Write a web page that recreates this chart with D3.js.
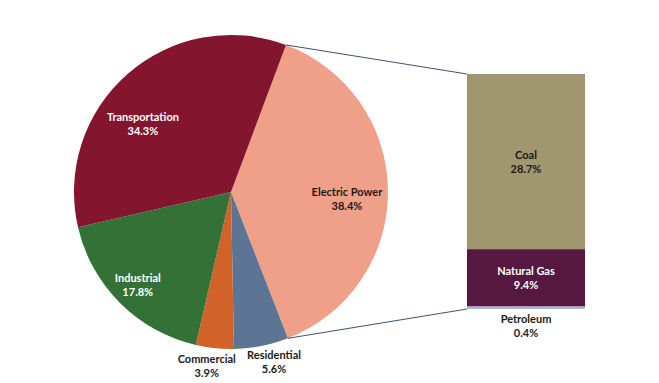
<!DOCTYPE html>
<html>
<head>
<meta charset="utf-8">
<script src="https://cdn.jsdelivr.net/npm/d3@7"></script>
<style>
  body { margin: 0; background: #fff; }
  svg { display: block; }
  text { font-family: Lato, "Open Sans", sans-serif; font-weight: bold; font-size: 11px; }
</style>
</head>
<body>
<figure id="chart" style="margin:0"></figure>
<script>
// sector shares of the pie (%)
const sectors = ['Electric Power', 'Residential', 'Commercial', 'Industrial', 'Transportation'];
const sectorValues = [38.4, 5.6, 3.9, 17.8, 34.3];
// breakdown of electric power (%)
const fuels = ['Coal', 'Natural Gas', 'Petroleum'];
const fuelValues = [28.7, 9.4, 0.4];

const width = 659, height = 383;
const cx = 231, cy = 192, radius = 157;
const startAngle = 0.358;

const sectorColor = d3.scaleOrdinal()
  .domain(sectors)
  .range(['#f0a088', '#5c7594', '#d0622a', '#347137', '#83152e']);
const fuelColor = d3.scaleOrdinal()
  .domain(fuels)
  .range(['#a0976f', '#561841', '#a9b9d3']);

// label placement: radius factor, angle offset (deg), text colour
const labelLayout = {
  'Electric Power': { r: 0.74, da: 4, fill: '#1a1a1a' },
  'Residential':    { r: 1.12, da: -3, fill: '#1a1a1a' },
  'Commercial':     { r: 1.12, da: 2, fill: '#1a1a1a' },
  'Industrial':     { r: 0.84, da: 0, fill: '#ffffff' },
  'Transportation': { r: 0.71, da: -11, fill: '#ffffff' }
};

const svg = d3.select('#chart').append('svg')
  .attr('width', width)
  .attr('height', height);

const pie = d3.pie()
  .sort(null)
  .startAngle(startAngle)
  .endAngle(startAngle + 2 * Math.PI)
  .value(d => d.value);

const arc = d3.arc().innerRadius(0).outerRadius(radius);

const slices = pie(sectors.map((name, i) => ({ name, value: sectorValues[i] })));

const g = svg.append('g').attr('transform', `translate(${cx},${cy})`);

g.selectAll('path')
  .data(slices)
  .join('path')
  .attr('fill', d => sectorColor(d.data.name))
  .attr('d', arc);

function polar(angle, r) {
  return [r * Math.sin(angle), -r * Math.cos(angle)];
}

const labels = g.selectAll('text.pl')
  .data(slices)
  .join('text')
  .attr('class', 'pl')
  .attr('text-anchor', 'middle')
  .attr('fill', d => labelLayout[d.data.name].fill)
  .attr('transform', d => {
    const L = labelLayout[d.data.name];
    const a = (d.startAngle + d.endAngle) / 2 + L.da * Math.PI / 180;
    return `translate(${polar(a, radius * L.r)})`;
  });
labels.append('tspan').attr('x', 0).attr('y', -3).text(d => d.data.name);
labels.append('tspan').attr('x', 0).attr('y', 11).text(d => d.data.value.toFixed(1) + '%');

// bar of the electric power breakdown
const barX = 467, barW = 118, barTop = 74, barBottom = 309;
const total = d3.sum(fuelValues);
const y = d3.scaleLinear().domain([0, total]).range([barTop, barBottom]);

let acc = 0;
const stack = fuels.map((name, i) => {
  const s = { name, value: fuelValues[i], y0: acc, y1: acc + fuelValues[i] };
  acc += fuelValues[i];
  return s;
});

svg.append('g').selectAll('rect')
  .data(stack)
  .join('rect')
  .attr('x', barX)
  .attr('width', barW)
  .attr('y', d => y(d.y0))
  .attr('height', d => y(d.y1) - y(d.y0))
  .attr('fill', d => fuelColor(d.name));

const barLabels = svg.append('g').selectAll('text')
  .data(stack)
  .join('text')
  .attr('text-anchor', 'middle')
  .attr('fill', d => d.name === 'Natural Gas' ? '#ffffff' : '#1a1a1a')
  .attr('transform', d => {
    const my = d.name === 'Petroleum' ? y(d.y1) + 17 : (y(d.y0) + y(d.y1)) / 2;
    return `translate(${barX + barW / 2},${my})`;
  });
barLabels.append('tspan').attr('x', 0).attr('y', -3).text(d => d.name);
barLabels.append('tspan').attr('x', 0).attr('y', 11).text(d => d.value.toFixed(1) + '%');

// connector lines from the exploded slice to the bar
const ep = slices[0];
const p0 = polar(ep.startAngle, radius);
const p1 = polar(ep.endAngle, radius);
svg.append('line')
  .attr('x1', cx + p0[0]).attr('y1', cy + p0[1])
  .attr('x2', barX).attr('y2', y(0))
  .attr('stroke', '#3d5270').attr('stroke-width', 1);
svg.append('line')
  .attr('x1', cx + p1[0]).attr('y1', cy + p1[1])
  .attr('x2', barX).attr('y2', y(total))
  .attr('stroke', '#3d5270').attr('stroke-width', 1);
</script>
</body>
</html>
